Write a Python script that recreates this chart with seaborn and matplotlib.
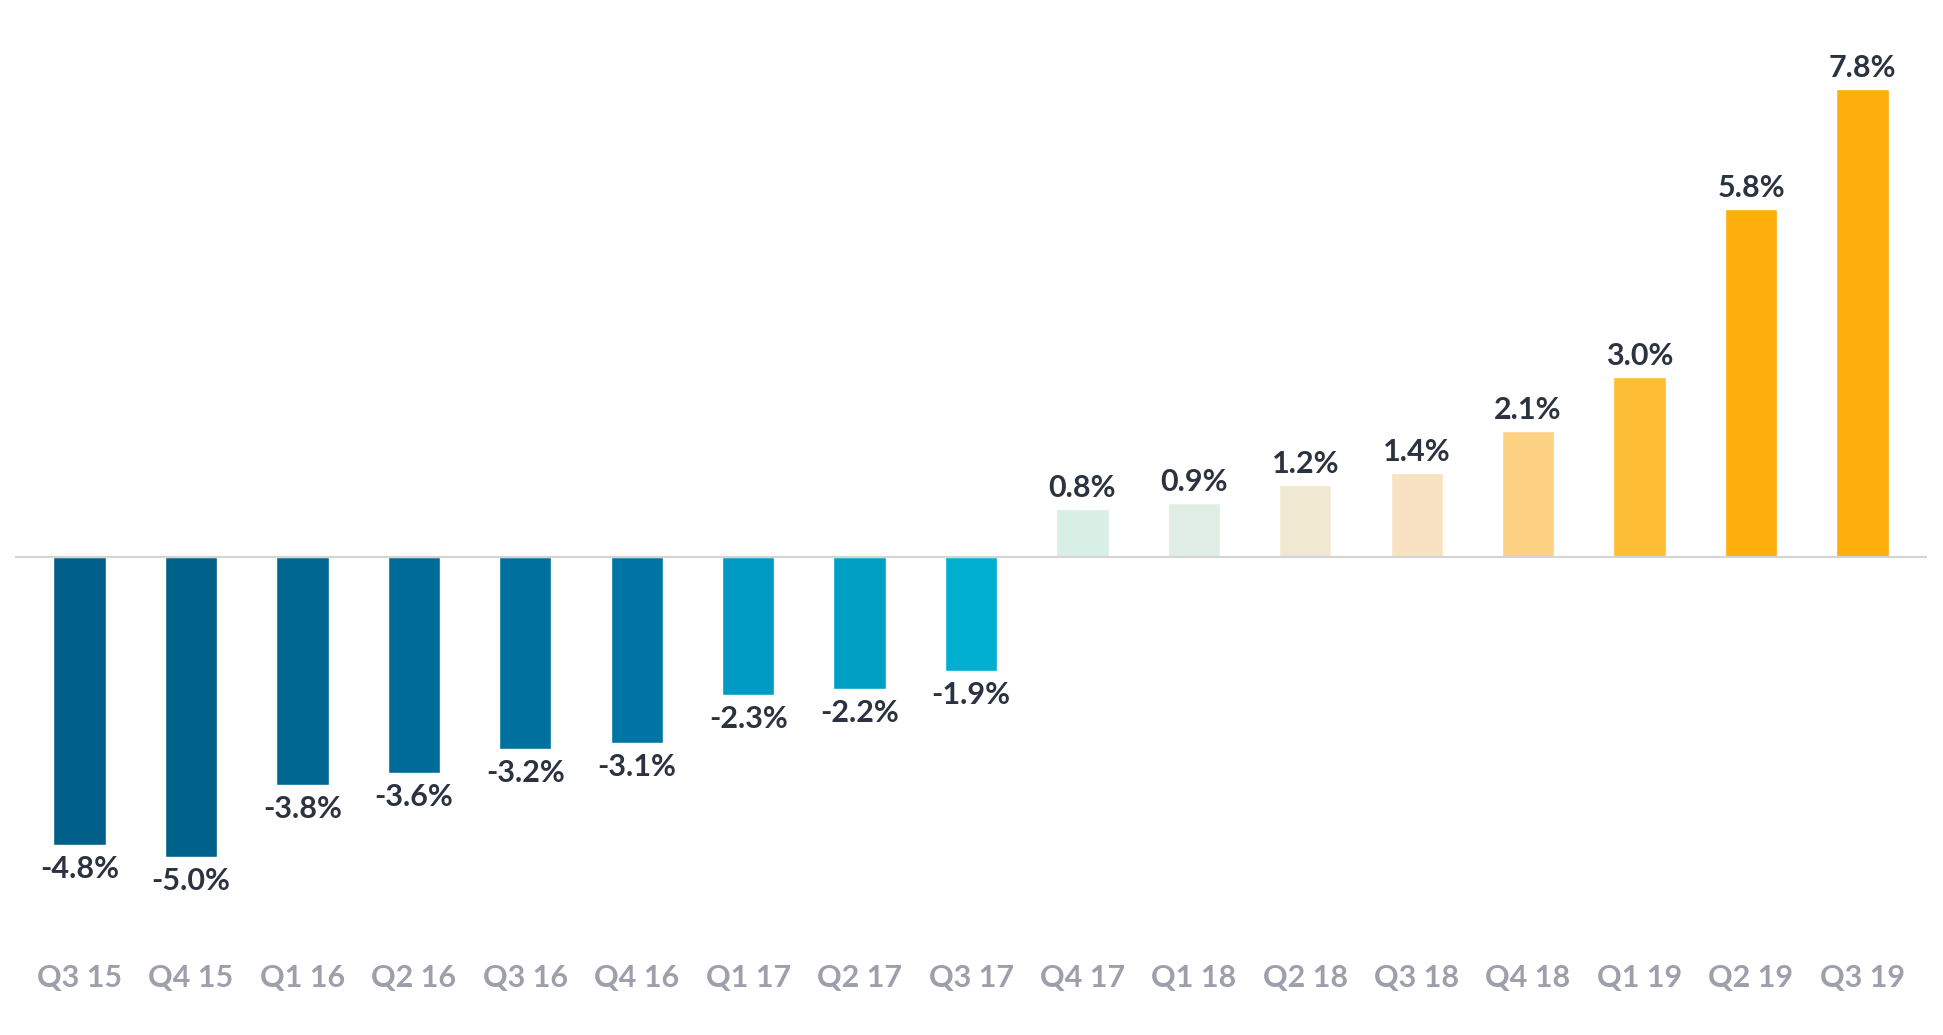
import pandas as pd
import seaborn as sns
import matplotlib.pyplot as plt

# Quarterly change values (percent)
quarters = ["Q3 15", "Q4 15", "Q1 16", "Q2 16", "Q3 16", "Q4 16", "Q1 17", "Q2 17", "Q3 17",
            "Q4 17", "Q1 18", "Q2 18", "Q3 18", "Q4 18", "Q1 19", "Q2 19", "Q3 19"]
changes = [-4.8, -5.0, -3.8, -3.6, -3.2, -3.1, -2.3, -2.2, -1.9,
           0.8, 0.9, 1.2, 1.4, 2.1, 3.0, 5.8, 7.8]
bar_colors = ["#00608a", "#00618b", "#006692", "#006a98", "#00709e", "#0075a3",
              "#009bc2", "#00a0c5", "#00aed0",
              "#d8efe6", "#e0ede4", "#f0e8d0", "#f8e2c2", "#fed283", "#fdbd35",
              "#ffaf0b", "#ffaf0b"]

df = pd.DataFrame({"quarter": quarters, "change": changes})

sns.set_style("white")
plt.rcParams["font.family"] = ["Lato", "DejaVu Sans"]

W, H = 1943, 1035
fig = plt.figure(figsize=(W / 100, H / 100), dpi=100)
# axes placed in pixel terms: left 15, right 1927, top 20, bottom 945
ax = fig.add_axes([15 / W, (H - 945) / H, 1912 / W, 925 / H])

sns.barplot(data=df, x="quarter", y="change", hue="quarter", palette=bar_colors,
            legend=False, width=0.47, saturation=1, ax=ax, zorder=2)

scale = 60.0  # pixels per percentage point
ax.set_xlim(-0.58, 16.58)
ax.set_ylim(-(945 - 557) / scale, (557 - 20) / scale)

ax.axhline(0, color="#d4d4d4", lw=1.5, zorder=3)

for i, v in enumerate(changes):
    if v >= 0:
        ax.annotate(f"{v:.1f}%", (i, v), xytext=(0, 5), textcoords="offset points",
                    ha="center", va="bottom", fontsize=22, fontweight="bold", color="#2b3341")
    else:
        ax.annotate(f"{v:.1f}%", (i, v), xytext=(0, -7), textcoords="offset points",
                    ha="center", va="top", fontsize=22, fontweight="bold", color="#2b3341")

sns.despine(ax=ax, left=True, bottom=True)
ax.set_yticks([])
ax.set_xlabel("")
ax.set_ylabel("")
ax.tick_params(axis="x", length=0, pad=14, labelsize=22, labelcolor="#9d9fab")
for lbl in ax.get_xticklabels():
    lbl.set_fontweight("bold")

fig.savefig("out.png", dpi=100)
